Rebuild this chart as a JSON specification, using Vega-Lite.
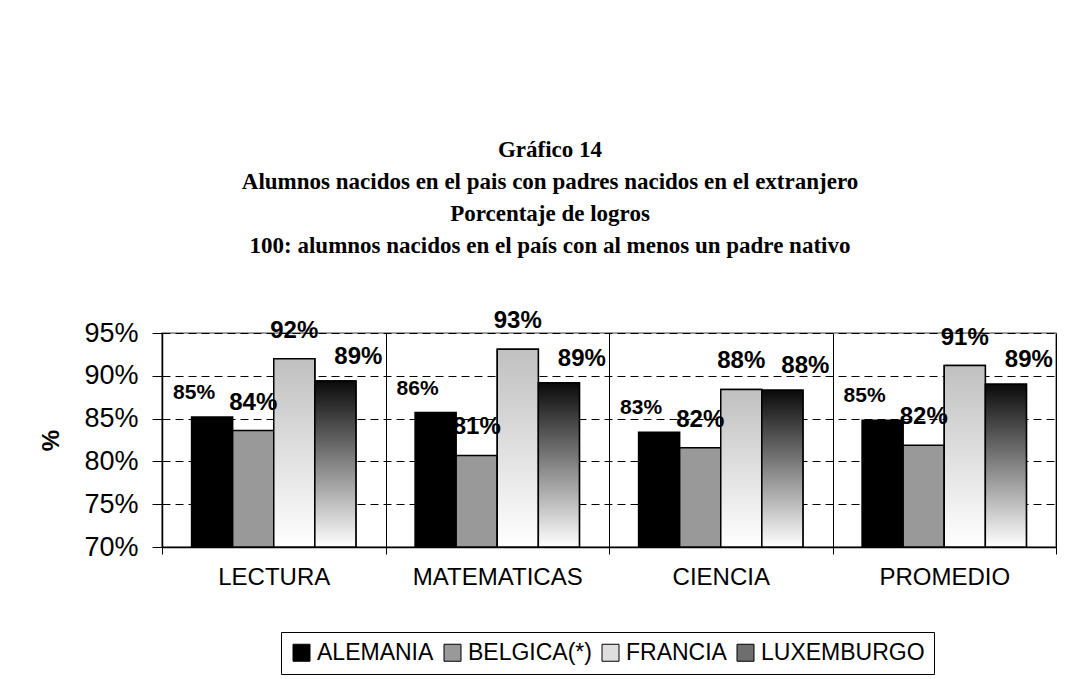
{
  "$schema": "https://vega.github.io/schema/vega-lite/v6.json",
  "autosize": {"type": "none"},
  "padding": {"left": 162, "top": 333, "right": 12, "bottom": 132},
  "width": 894,
  "height": 214,
  "background": "white",
  "title": {
    "text": ["Gráfico 14", "Alumnos nacidos en el pais con padres nacidos en el extranjero", "Porcentaje de logros", "100: alumnos nacidos en el país con al menos un padre nativo"],
    "font": "Liberation Serif",
    "fontSize": 23,
    "fontWeight": "bold",
    "lineHeight": 32,
    "color": "black",
    "anchor": "middle",
    "offset": 51,
    "dx": -59
  },
  "config": {
    "view": {"stroke": "#808080", "strokeWidth": 1.5},
    "axis": {"labelFont": "Liberation Sans", "titleFont": "Liberation Sans", "labelColor": "black", "titleColor": "black", "domainColor": "black", "tickColor": "black"}
  },
  "data": {
    "values": [
      {"cat": "LECTURA", "pais": "ALEMANIA", "v": 0.852},
      {"cat": "LECTURA", "pais": "BELGICA(*)", "v": 0.836},
      {"cat": "LECTURA", "pais": "FRANCIA", "v": 0.920},
      {"cat": "LECTURA", "pais": "LUXEMBURGO", "v": 0.894},
      {"cat": "MATEMATICAS", "pais": "ALEMANIA", "v": 0.857},
      {"cat": "MATEMATICAS", "pais": "BELGICA(*)", "v": 0.807},
      {"cat": "MATEMATICAS", "pais": "FRANCIA", "v": 0.931},
      {"cat": "MATEMATICAS", "pais": "LUXEMBURGO", "v": 0.892},
      {"cat": "CIENCIA", "pais": "ALEMANIA", "v": 0.834},
      {"cat": "CIENCIA", "pais": "BELGICA(*)", "v": 0.816},
      {"cat": "CIENCIA", "pais": "FRANCIA", "v": 0.884},
      {"cat": "CIENCIA", "pais": "LUXEMBURGO", "v": 0.883},
      {"cat": "PROMEDIO", "pais": "ALEMANIA", "v": 0.848},
      {"cat": "PROMEDIO", "pais": "BELGICA(*)", "v": 0.819},
      {"cat": "PROMEDIO", "pais": "FRANCIA", "v": 0.912},
      {"cat": "PROMEDIO", "pais": "LUXEMBURGO", "v": 0.890}
    ]
  },
  "encoding": {
    "x": {
      "field": "cat", "type": "nominal",
      "sort": ["LECTURA", "MATEMATICAS", "CIENCIA", "PROMEDIO"],
      "scale": {"paddingInner": 0, "paddingOuter": 0},
      "axis": {
        "title": null, "labelAngle": 0, "labelFontSize": 24, "bandPosition": 0,
        "grid": true, "gridColor": "black", "gridWidth": 1,
        "tickSize": 7, "tickBand": "extent", "labelPadding": 11, "domainWidth": 1.5
      }
    },
    "xOffset": {"field": "pais", "type": "nominal", "scale": {"domain": ["ALEMANIA", "BELGICA(*)", "FRANCIA", "LUXEMBURGO"], "paddingInner": 0, "paddingOuter": 0.72}},
    "y": {
      "field": "v", "type": "quantitative",
      "scale": {"domain": [0.7, 0.95], "nice": false, "zero": false},
      "axis": {
        "title": "%", "titleFontSize": 24, "titleFontWeight": "bold", "titlePadding": 20,
        "format": ".0%", "values": [0.7, 0.75, 0.8, 0.85, 0.9, 0.95],
        "labelFontSize": 27, "tickSize": 10, "labelPadding": 14, "domainWidth": 1.5,
        "grid": true, "gridColor": "black", "gridDash": [8, 5], "gridWidth": 1
      }
    }
  },
  "layer": [
    {
      "mark": {"type": "bar", "stroke": "black", "strokeWidth": 1.5, "clip": true},
      "encoding": {
        "y2": {"datum": 0.7},
        "color": {
          "field": "pais", "type": "nominal",
          "scale": {
            "domain": ["ALEMANIA", "BELGICA(*)", "FRANCIA", "LUXEMBURGO"],
            "range": ["#000000", "#999999", "#dedede", "#6e6e6e"]
          },
          "legend": {
            "title": null, "orient": "none", "legendX": 119, "legendY": 299,
            "direction": "horizontal", "columns": 4, "columnPadding": 7,
            "symbolType": "square", "symbolSize": 289, "symbolStrokeColor": "black", "symbolStrokeWidth": 1,
            "labelFont": "Liberation Sans", "labelFontSize": 23, "labelColor": "black", "labelOffset": 4, "labelLimit": 0,
            "strokeColor": "black", "padding": 9,
            "encode": {
              "symbols": {
                "update": {"stroke": {"value": "black"}},
                "stroke": {"value": "black"},
                "fill": {
                  "condition": [
                    {"test": "datum.value === 'FRANCIA'", "value": {"gradient": "linear", "x1": 0, "y1": 0, "x2": 0, "y2": 1, "stops": [{"offset": 0, "color": "#c0c0c0"}, {"offset": 1, "color": "#ffffff"}]}},
                    {"test": "datum.value === 'LUXEMBURGO'", "value": {"gradient": "linear", "x1": 0, "y1": 0, "x2": 0, "y2": 1, "stops": [{"offset": 0, "color": "#0a0a0a"}, {"offset": 1, "color": "#ffffff"}]}},
                    {"test": "datum.value === 'BELGICA(*)'", "value": "#999999"}
                  ],
                  "value": "#000000"
                }
              }
            }
          }
        }
      }
    },
    {
      "transform": [{"filter": "datum.pais === 'FRANCIA'"}],
      "mark": {"type": "bar", "stroke": "black", "strokeWidth": 1.5, "clip": true,
        "fill": {"gradient": "linear", "x1": 0, "y1": 0, "x2": 0, "y2": 1, "stops": [{"offset": 0, "color": "#c0c0c0"}, {"offset": 1, "color": "#ffffff"}]}},
      "encoding": {"y2": {"datum": 0.7}}
    },
    {
      "transform": [{"filter": "datum.pais === 'LUXEMBURGO'"}],
      "mark": {"type": "bar", "stroke": "black", "strokeWidth": 1.5, "clip": true,
        "fill": {"gradient": "linear", "x1": 0, "y1": 0, "x2": 0, "y2": 1, "stops": [{"offset": 0, "color": "#0a0a0a"}, {"offset": 1, "color": "#ffffff"}]}},
      "encoding": {"y2": {"datum": 0.7}}
    },
    {
      "transform": [{"filter": "datum.pais === 'ALEMANIA'"}],
      "mark": {"type": "text", "font": "Liberation Sans", "fontWeight": "bold", "fontSize": 21, "dx": -18, "dy": -24, "color": "black"},
      "encoding": {"text": {"field": "v", "type": "quantitative", "format": ".0%"}}
    },
    {
      "transform": [{"filter": "datum.pais === 'BELGICA(*)' || datum.pais === 'FRANCIA'"}],
      "mark": {"type": "text", "font": "Liberation Sans", "fontWeight": "bold", "fontSize": 24, "dx": 0, "dy": -28, "color": "black"},
      "encoding": {"text": {"field": "v", "type": "quantitative", "format": ".0%"}}
    },
    {
      "transform": [{"filter": "datum.pais === 'LUXEMBURGO'"}],
      "mark": {"type": "text", "font": "Liberation Sans", "fontWeight": "bold", "fontSize": 24, "dx": 23, "dy": -24, "color": "black"},
      "encoding": {"text": {"field": "v", "type": "quantitative", "format": ".0%"}}
    }
  ]
}
